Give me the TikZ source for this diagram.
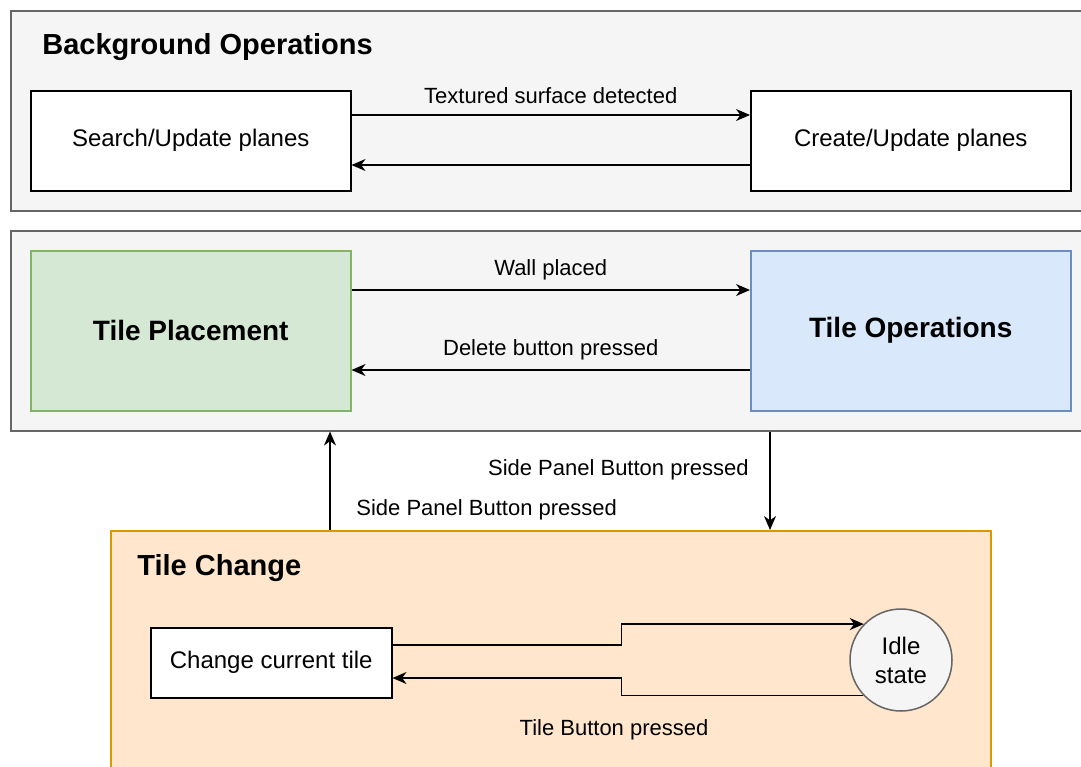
\documentclass[tikz,border=0pt]{standalone}
\usepackage{fontspec}
\setmainfont{Liberation Sans}
\usetikzlibrary{arrows.meta,calc}
\definecolor{contfill}{HTML}{F5F5F5}
\definecolor{contdraw}{HTML}{666666}
\definecolor{greenfill}{HTML}{D5E8D4}
\definecolor{greendraw}{HTML}{82B366}
\definecolor{bluefill}{HTML}{DAE8FC}
\definecolor{bluedraw}{HTML}{6C8EBF}
\definecolor{orangefill}{HTML}{FFE6CC}
\definecolor{orangedraw}{HTML}{D79B00}
\tikzset{
  container/.style={draw=contdraw, fill=contfill, line width=0.75pt, anchor=north west, inner sep=0pt},
  whitebox/.style={draw=black, fill=white, line width=0.75pt, anchor=north west, inner sep=0pt,
    minimum width=160pt, minimum height=50pt, font=\fontsize{12}{14}\selectfont, text=black},
  bigbox/.style={line width=0.75pt, anchor=north west, inner sep=0pt,
    minimum width=160pt, minimum height=80pt, font=\fontsize{14}{16}\selectfont\bfseries},
  title/.style={anchor=west, inner sep=0pt, font=\fontsize{14.5}{16}\selectfont\bfseries},
  lbl/.style={inner sep=0pt, font=\fontsize{11}{13}\selectfont},
  arr/.style={draw=black, line width=0.75pt, -{Stealth[length=7pt,width=6pt,inset=2.2pt]}},
}
\begin{document}
\begin{tikzpicture}[x=0.5pt,y=-0.5pt]
\clip (0,0) rectangle (1081,766);
\fill[white] (0,0) rectangle (1081,766);
% containers
\node[container, minimum width=545pt, minimum height=100pt] (bg) at (10,10) {};
\node[container, minimum width=545pt, minimum height=100pt] (tiles) at (10,230) {};
\node[container, draw=orangedraw, fill=orangefill, minimum width=440pt, minimum height=135pt] (tc) at (110,530) {};
% titles
\node[title] (bgtitle) at (42,47) {Background Operations};
\node[title] (tctitle) at (137,568) {Tile Change};
% background boxes
\node[whitebox] (search) at (30,90) {Search/Update planes};
\node[whitebox] (create) at (750,90) {Create/Update planes};
\draw[arr] ($(search.north east)+(0,25)$) -- ($(create.north west)+(0,25)$)
  node[lbl, midway, yshift=9.5pt] (l1) {Textured surface detected};
\draw[arr] ($(create.north west)+(0,75)$) -- ($(search.north east)+(0,75)$);
% tile boxes
\node[bigbox, draw=greendraw, fill=greenfill] (tp) at (30,250) {Tile Placement};
\node[bigbox, draw=bluedraw, fill=bluefill] (to) at (750,250) {Tile Operations};
\draw[arr] ($(tp.north east)+(0,40)$) -- ($(to.north west)+(0,40)$)
  node[lbl, midway, yshift=10pt] (l2) {Wall placed};
\draw[arr] ($(to.north west)+(0,120)$) -- ($(tp.north east)+(0,120)$)
  node[lbl, midway, yshift=10pt] (l3) {Delete button pressed};
% between containers
\draw[arr] ($(tc.north west)+(220,0)$) -- ($(tiles.south west)+(320,0)$);
\node[lbl, anchor=west] (l4) at (356,510) {Side Panel Button pressed};
\draw[arr] ($(tiles.south west)+(760,0)$) -- ($(tc.north west)+(660,0)$);
\node[lbl, anchor=east] (l5) at (749,470) {Side Panel Button pressed};
% tile change content
\node[whitebox, minimum width=120.5pt, minimum height=35pt] (ccur) at (150,627) {Change current tile};
\node[circle, draw=contdraw, fill=contfill, line width=0.75pt, minimum size=51pt, inner sep=0pt,
  align=center, font=\fontsize{12}{14.5}\selectfont] (idle) at (901,660) {Idle\\state};
\draw[arr] ($(ccur.north east)+(0,18)$) -- ++(229,0) |- (idle.136.7);
\draw[arr] (idle.223.3) -| ($(ccur.north east)+(229,51)$) -- ($(ccur.north east)+(0,51)$);
\node[lbl] (l6) at (614,730) {Tile Button pressed};
\end{tikzpicture}
\end{document}
